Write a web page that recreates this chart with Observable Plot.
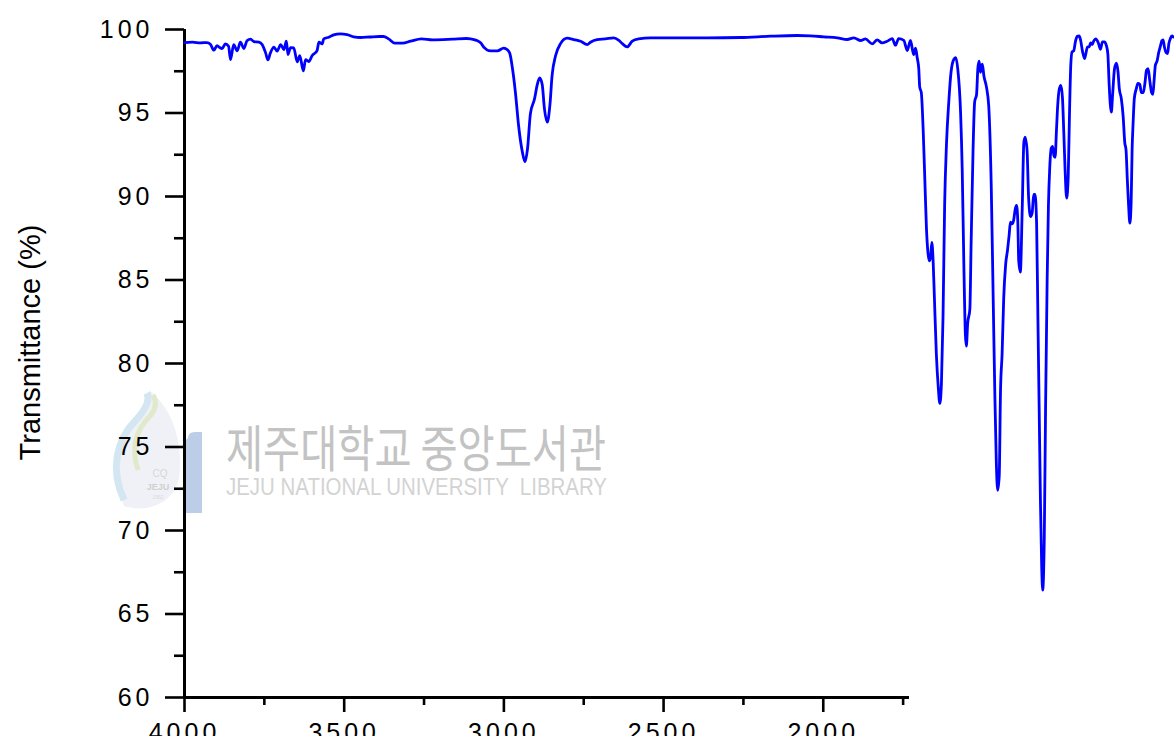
<!DOCTYPE html>
<html>
<head>
<meta charset="utf-8">
<script src="https://cdn.jsdelivr.net/npm/d3@7"></script>
<script src="https://cdn.jsdelivr.net/npm/@observablehq/plot@0.6"></script>
<style>
  html, body { margin: 0; padding: 0; background: #fff; }
  #chart svg { display: block; }
  #chart g[aria-label="y-axis tick label"] text,
  #chart g[aria-label="x-axis tick label"] text { letter-spacing: 4px; }
</style>
</head>
<body>
<div id="chart"></div>
<script>
// FTIR spectrum: wavenumber (cm-1) and transmittance (%)
const wavenumber = [
  4000, 3975, 3950, 3930, 3919, 3908, 3898, 3890, 3882, 3872, 3862, 3856, 3846, 3835, 3825, 3814,
  3804, 3793, 3783, 3767, 3757, 3746, 3739, 3731, 3720, 3710, 3699, 3689, 3681, 3676, 3668, 3658,
  3647, 3639, 3628, 3621, 3611, 3600, 3585, 3579, 3569, 3564, 3548, 3533, 3512, 3491, 3470, 3449,
  3420, 3390, 3377, 3361, 3342, 3317, 3292, 3258, 3223, 3161, 3117, 3104, 3086, 3073, 3061, 3048,
  3032, 3020, 3001, 2992, 2982, 2973, 2964, 2954, 2942, 2934, 2926, 2917, 2904, 2896, 2888, 2880,
  2873, 2864, 2856, 2849, 2838, 2823, 2802, 2781, 2760, 2739, 2729, 2708, 2682, 2656, 2640, 2629,
  2614, 2598, 2578, 2541, 2450, 2363, 2259, 2165, 2082, 2040, 1998, 1956, 1925, 1904, 1883, 1868,
  1847, 1831, 1816, 1800, 1784, 1774, 1764, 1748, 1737, 1727, 1717, 1711, 1706, 1701, 1698, 1693,
  1687, 1682, 1677, 1673, 1668, 1664, 1660, 1656, 1652, 1646, 1640, 1635, 1630, 1625, 1620, 1614,
  1607, 1600, 1591, 1585, 1579, 1570, 1565, 1560, 1555, 1552, 1548, 1541, 1537, 1531, 1526, 1520,
  1516, 1512, 1508, 1502, 1497, 1489, 1482, 1474, 1468, 1463, 1458, 1454, 1449, 1445, 1440, 1435,
  1429, 1423, 1418, 1414, 1409, 1404, 1399, 1395, 1391, 1388, 1383, 1377, 1372, 1368, 1362, 1357,
  1351, 1346, 1341, 1337, 1332, 1328, 1324, 1320, 1316, 1313, 1308, 1304, 1299, 1295, 1291, 1286,
  1282, 1278, 1274, 1270, 1266, 1261, 1256, 1251, 1247, 1243, 1238, 1233, 1229, 1225, 1221, 1216,
  1210, 1205, 1199, 1195, 1188, 1182, 1178, 1173, 1167, 1163, 1158, 1153, 1147, 1139, 1132, 1126,
  1120, 1113, 1109, 1105, 1101, 1098, 1094, 1088, 1082, 1077, 1073, 1067, 1061, 1056, 1052, 1048,
  1044, 1040, 1036, 1033, 1030, 1026, 1020, 1015, 1009, 1004, 998, 993, 988, 983, 978, 972,
  968, 964, 960, 955, 950, 944, 940, 936, 932, 926, 922, 918, 913, 908, 903, 897
];
const transmittance = [
  99.22, 99.24, 99.2, 99.22, 99.12, 98.76, 99.04, 98.92, 98.86, 99.14, 99.0, 98.2, 99.1, 98.72, 99.24, 98.86,
  99.34, 99.42, 99.28, 99.25, 99.1, 98.6, 98.18, 98.6, 98.94, 98.7, 99.1, 98.8, 99.3, 98.5, 98.92, 98.9,
  98.06, 98.44, 97.52, 98.2, 98.08, 98.44, 98.74, 99.24, 99.14, 99.44, 99.54, 99.68, 99.74, 99.7, 99.56, 99.52,
  99.55, 99.58, 99.58, 99.44, 99.18, 99.18, 99.3, 99.44, 99.38, 99.42, 99.46, 99.44, 99.35, 99.2, 98.9, 98.74,
  98.72, 98.72, 98.88, 98.82, 98.6, 97.65, 96.25, 94.25, 92.65, 92.08, 92.86, 94.95, 95.85, 96.65, 97.1, 96.7,
  95.25, 94.45, 95.45, 97.25, 98.44, 99.14, 99.48, 99.4, 99.3, 99.1, 99.24, 99.4, 99.44, 99.5, 99.35, 99.15,
  98.96, 99.3, 99.44, 99.5, 99.5, 99.5, 99.52, 99.6, 99.64, 99.62, 99.56, 99.5, 99.4, 99.5, 99.34, 99.44,
  99.14, 99.38, 99.2, 99.3, 99.45, 99.06, 99.45, 99.35, 98.74, 99.35, 98.5, 98.88, 98.32, 97.66, 96.55, 96.22,
  93.89, 91.01, 88.13, 86.8, 86.14, 86.36, 87.25, 86.14, 83.92, 80.6, 78.6, 77.61, 78.83, 82.81, 89.46, 93.23,
  95.66, 97.44, 98.22, 98.32, 97.66, 95.0, 91.68, 86.14, 81.71, 81.04, 82.37, 83.26, 87.25, 92.78, 95.66, 96.11,
  97.66, 98.1, 97.44, 97.92, 97.22, 96.55, 95.44, 90.57, 83.92, 78.38, 73.95, 72.41, 73.29, 78.38, 80.6, 83.92,
  85.92, 86.8, 87.69, 88.47, 88.36, 88.57, 89.24, 89.46, 88.57, 86.14, 85.47, 89.3, 93.23, 93.56, 92.8, 89.9,
  88.8, 89.02, 90.13, 90.13, 88.36, 82.81, 77.28, 71.74, 67.75, 66.43, 69.52, 77.28, 85.03, 89.46, 91.68, 92.9,
  93.0, 92.46, 92.35, 93.89, 95.44, 96.44, 96.66, 95.89, 93.89, 91.68, 89.9, 91.23, 95.0, 97.88, 98.66, 98.72,
  99.32, 99.59, 99.61, 99.43, 98.66, 98.26, 98.54, 98.95, 98.97, 99.2, 99.1, 99.32, 99.43, 99.21, 98.81, 99.26,
  99.26, 99.0, 98.54, 96.77, 95.44, 95.05, 96.11, 97.66, 97.99, 97.44, 96.44, 95.89, 94.78, 93.23, 92.78, 91.01,
  89.46, 88.4, 89.68, 92.78, 94.34, 95.89, 96.44, 96.77, 96.72, 96.22, 96.22, 96.77, 97.55, 97.66, 96.99, 96.22,
  96.11, 96.99, 97.88, 98.1, 98.6, 99.03, 99.32, 99.38, 98.97, 98.6, 98.56, 99.14, 99.47, 99.61, 99.55, 99.55
];

const yMajorTicks = [60, 65, 70, 75, 80, 85, 90, 95, 100];
const yMinorTicks = [62.5, 67.5, 72.5, 77.5, 82.5, 87.5, 92.5, 97.5];
const xMajorTicks = [4000, 3500, 3000, 2500, 2000];
const xMinorTicks = [3750, 3250, 2750, 2250, 1750];
const xDomain = [4000, 1730];
const yDomain = [60, 100];
const yTitle = "Transmittance (%)";
const watermarkKo = "제주대학교 중앙도서관";
const watermarkEn = "JEJU NATIONAL UNIVERSITY  LIBRARY";
const sealTop = "CQ";
const sealMid = "JEJU";
const sealYear = "1952";

const spectrum = wavenumber.map((w, i) => ({w, t: transmittance[i]}));

const chart = Plot.plot({
  width: 1174,
  height: 736,
  marginLeft: 184,
  marginRight: 265,
  marginTop: 29,
  marginBottom: 39,
  style: {fontFamily: "Arial, 'Liberation Sans', sans-serif", background: "#fff", color: "#000"},
  x: {domain: xDomain, axis: null},
  y: {domain: yDomain, axis: null},
  marks: [
    Plot.axisY(yMinorTicks, {tickSize: 10, tickFormat: () => "", strokeWidth: 2.6, label: null}),
    Plot.axisY(yMajorTicks, {tickSize: 19, tickPadding: 12, strokeWidth: 2.6, label: null, tickFormat: d => String(d), fontSize: 25}),
    Plot.axisX(xMinorTicks, {tickSize: 8, tickFormat: () => "", strokeWidth: 2.6, label: null}),
    Plot.axisX(xMajorTicks, {tickSize: 15, tickPadding: 11, strokeWidth: 2.6, label: null, tickFormat: d => String(d), fontSize: 25}),
    Plot.ruleX([xDomain[0]], {y1: yDomain[0], y2: yDomain[1], strokeWidth: 3}),
    Plot.ruleY([yDomain[0]], {x1: xDomain[0], x2: xDomain[1], strokeWidth: 3}),
    Plot.line(spectrum, {x: "w", y: "t", stroke: "#0000ff", strokeWidth: 2.8, curve: "monotone-x"}),
    Plot.text([yTitle], {frameAnchor: "left", textAnchor: "middle", rotate: -90, dx: -154, dy: -21, fontSize: 29, fill: "#000"})
  ]
});

// library watermark, drawn beneath the plot
const svg = d3.select(chart);
const wm = svg.insert("g", ":first-child").attr("class", "watermark").attr("text-anchor", "start");
wm.append("path")
  .attr("d", "M124,506 C110,472 118,432 142,408 C148,401 151,396 149,390 C172,408 184,442 179,478 C175,500 152,514 124,506 Z")
  .attr("fill", "#eff1f6");
wm.append("path")
  .attr("d", "M124,500 C110,470 116,440 136,420 C147,408 150,400 147,393")
  .attr("fill", "none").attr("stroke", "#d3e6f2").attr("stroke-width", 7);
wm.append("path")
  .attr("d", "M138,470 C130,446 138,428 150,416 C156,409 157,402 153,395")
  .attr("fill", "none").attr("stroke", "#e0eacb").attr("stroke-width", 5);
wm.append("path")
  .attr("d", "M188,438 Q188,432 195,432 L202,432 L202,513 L186,513 L186,440 Z")
  .attr("fill", "#bccde8");
wm.append("text")
  .attr("x", 160).attr("y", 477).attr("text-anchor", "middle")
  .attr("font-family", "Arial, 'Liberation Sans', sans-serif").attr("font-size", 10)
  .attr("fill", "#d6d6d6").text(sealTop);
wm.append("text")
  .attr("x", 158).attr("y", 490).attr("text-anchor", "middle")
  .attr("font-family", "Arial, 'Liberation Sans', sans-serif").attr("font-size", 9)
  .attr("font-weight", "bold").attr("fill", "#d0d0d0").text(sealMid);
wm.append("text")
  .attr("x", 158).attr("y", 499).attr("text-anchor", "middle")
  .attr("font-family", "Arial, 'Liberation Sans', sans-serif").attr("font-size", 5)
  .attr("fill", "#dadada").text(sealYear);
wm.append("text")
  .attr("x", 226).attr("y", 467).attr("text-anchor", "start")
  .attr("font-family", "'Noto Sans CJK KR', sans-serif").attr("font-size", 50)
  .attr("textLength", 380).attr("lengthAdjust", "spacingAndGlyphs")
  .attr("fill", "#c3c3c3").text(watermarkKo);
wm.append("text")
  .attr("x", 226).attr("y", 495).attr("text-anchor", "start")
  .attr("font-family", "Arial, 'Liberation Sans', sans-serif").attr("font-size", 23)
  .attr("textLength", 381).attr("lengthAdjust", "spacingAndGlyphs")
  .attr("fill", "#d3d3d3").text(watermarkEn);

document.getElementById("chart").append(chart);
</script>
</body>
</html>
